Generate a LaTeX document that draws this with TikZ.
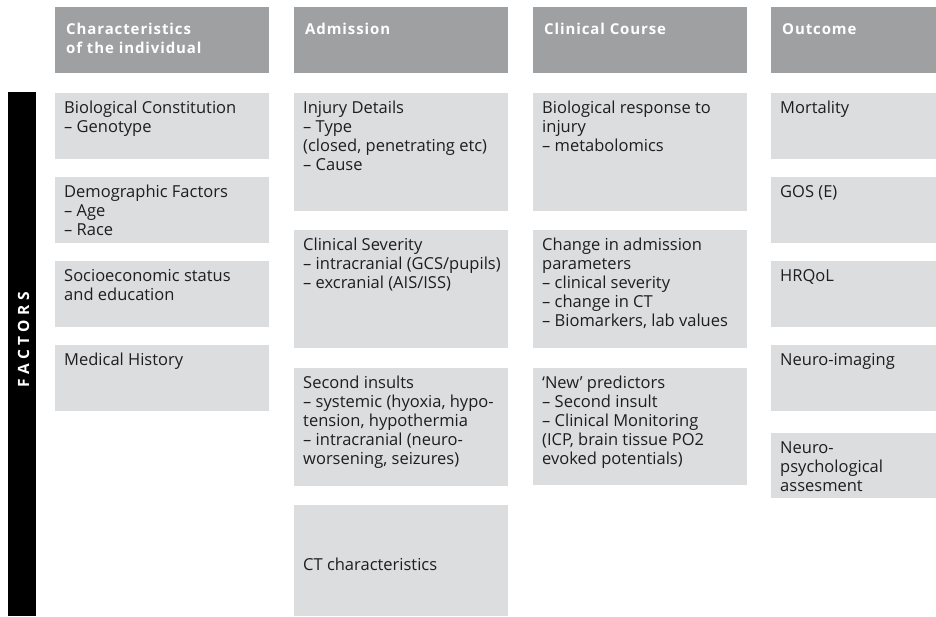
\documentclass[tikz,border=0pt]{standalone}
\usepackage{fontspec}
\setmainfont{Open Sans}
\definecolor{headgray}{HTML}{9FA0A2}
\definecolor{cellgray}{HTML}{DCDDDF}
\definecolor{ink}{HTML}{1E1E1E}
\tikzset{
  cellbox/.style={fill=cellgray, draw=none, inner sep=0pt, anchor=north west},
  headbox/.style={fill=headgray, draw=none, inner sep=0pt, anchor=north west},
  celltext/.style={inner sep=0pt, align=left, anchor=north west, text=ink,
    font=\fontsize{16.5}{19}\selectfont},
  headtext/.style={inner sep=0pt, align=left, anchor=north west, text=white,
    font=\fontsize{15}{19}\selectfont\bfseries\addfontfeature{LetterSpace=6}},
}
% #1 name, #2 x, #3 y (top), #4 width, #5 height, #6 text
\newcommand\cell[6]{%
  \node[cellbox, minimum width=#4pt, minimum height=#5pt] (#1) at (#2,#3) {};
  \node[celltext] (#1-t) at ([xshift=9pt,yshift=-6.7pt]#1.north west) {\strut #6};
}
\newcommand\headcell[5]{%
  \node[headbox, minimum width=#4pt, minimum height=66pt] (#1) at (#2,#3) {};
  \node[headtext] (#1-t) at ([xshift=11pt,yshift=-13.7pt]#1.north west) {\strut #5};
}
\begin{document}
\begin{tikzpicture}[x=1pt, y=-1pt]
\useasboundingbox (0,0) rectangle (936,616);

% column headings
\headcell{h1}{55}{7}{214}{Characteristics\\of the individual}
\headcell{h2}{294}{7}{214}{Admission}
\headcell{h3}{533}{7}{214}{Clinical Course}
\headcell{h4}{771}{7}{165}{Outcome}

% side bar
\node[fill=black, inner sep=0pt, minimum width=28pt, minimum height=524pt, anchor=north west] (bar) at (8,92) {};
\node[rotate=90, text=white, inner sep=0pt, font=\fontsize{15.5}{16}\selectfont\bfseries] (factors) at (23.5,340)
  {F\kern4.4pt A\kern4.4pt C\kern4.4pt T\kern4.4pt O\kern4.4pt R\kern4.4pt S};

% characteristics of the individual
\cell{c1}{55}{93}{214}{66}{Biological Constitution\\– Genotype}
\cell{c2}{55}{177}{214}{66}{Demographic Factors\\– Age\\– Race}
\cell{c3}{55}{261}{214}{66}{Socioeconomic status\\and education}
\cell{c4}{55}{345}{214}{66}{Medical History}

% admission
\cell{a1}{294}{93}{214}{118}{Injury Details\\– Type\\(closed, penetrating etc)\\– Cause}
\cell{a2}{294}{230}{214}{118}{Clinical Severity\\– intracranial (GCS/pupils)\\– excranial (AIS/ISS)}
\cell{a3}{294}{368}{214}{118}{Second insults\\– systemic (hyoxia, hypo-\\tension, hypothermia\\– intracranial (neuro-\\worsening, seizures)}
\node[cellbox, minimum width=214pt, minimum height=111pt] (a4) at (294,505) {};
\node[celltext, anchor=base west] (a4-t) at ([xshift=9pt,yshift=-65pt]a4.north west) {CT characteristics};

% clinical course
\cell{k1}{533}{93}{214}{118}{Biological response to\\injury\\– metabolomics}
\cell{k2}{533}{230}{214}{118}{Change in admission\\parameters\\– clinical severity\\– change in CT\\– Biomarkers, lab values}
\cell{k3}{533}{368}{214}{117}{‘New’ predictors\\– Second insult\\– Clinical Monitoring\\(ICP, brain tissue PO2\\evoked potentials)}

% outcome
\cell{o1}{771}{93}{165}{66}{Mortality}
\cell{o2}{771}{177}{165}{66}{GOS (E)}
\cell{o3}{771}{261}{165}{66}{HRQoL}
\cell{o4}{771}{345}{165}{66}{Neuro-imaging}
\cell{o5}{771}{433}{165}{65}{Neuro-\\psychological\\assesment}
\end{tikzpicture}
\end{document}
